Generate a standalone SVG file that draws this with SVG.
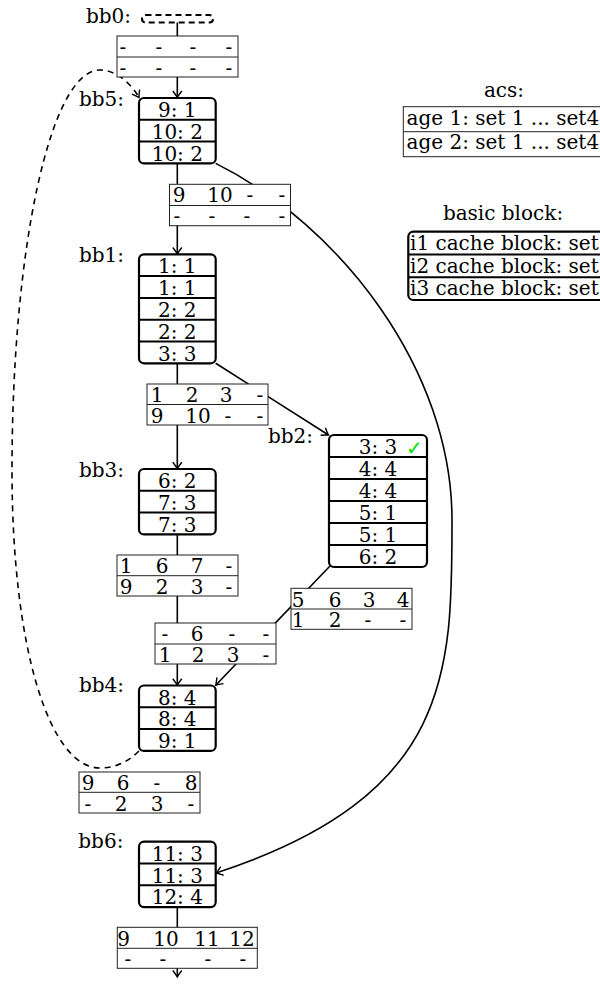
<svg xmlns="http://www.w3.org/2000/svg" width="600" height="985" viewBox="0 0 600 985">
<defs>
<style>
text{font-family:"DejaVu Serif","Liberation Serif",serif;font-size:20px;fill:#000}
.c{text-anchor:middle}
.frame{fill:#fff;stroke:#000;stroke-width:2.2}
.dv{stroke:#000;stroke-width:2}
.acs rect{fill:#fff;stroke:#222;stroke-width:1}
.acs line{stroke:#222;stroke-width:1}
.edge{fill:none;stroke:#000;stroke-width:1.6}
.dash{stroke-dasharray:6 5}
.chk{font-family:"DejaVu Sans",sans-serif;fill:#00e000}
</style>
<marker id="arr" markerUnits="userSpaceOnUse" markerWidth="14" markerHeight="14" viewBox="-8 -7 10 14" refX="0" refY="0" orient="auto">
<path d="M-6.5,-4.5 Q-2,-1 0,0 Q-2,1 -6.5,4.5" fill="none" stroke="#000" stroke-width="1.4"/>
</marker>
</defs>
<rect width="600" height="985" fill="#fff"/>

<g id="connectors">
<line class="edge" x1="177.3" y1="22" x2="177.3" y2="97.5" marker-end="url(#arr)"/>
<line class="edge" x1="177.3" y1="163.4" x2="177.3" y2="254" marker-end="url(#arr)"/>
<path class="edge" d="M215.7,163.4 C341,226 452,370 452,520 C452,670 453.5,795.5 216,873" marker-end="url(#arr)"/>
<line class="edge" x1="177.3" y1="363.3" x2="177.3" y2="468.7" marker-end="url(#arr)"/>
<line class="edge" x1="215.7" y1="363.3" x2="328.5" y2="435" marker-end="url(#arr)"/>
<line class="edge" x1="177.3" y1="534.4" x2="177.3" y2="685.2" marker-end="url(#arr)"/>
<line class="edge" x1="330" y1="566" x2="215.7" y2="685.2" marker-end="url(#arr)"/>
<path class="edge dash" d="M139,751 C128,762 115,768 100,768 C50,768 12,650 12,470 C12,250 50,70 100,70 C115,70 130,82 139,97.5" marker-end="url(#arr)"/>
<line class="edge" x1="177.3" y1="907" x2="177.3" y2="977" marker-end="url(#arr)"/>
</g>

<g id="bb0">
<text x="86" y="22.5">bb0:</text>
<rect x="142" y="15" width="71" height="7.5" rx="3.5" fill="#fff" stroke="#000" stroke-width="2" stroke-dasharray="6 4"/>
</g>
<g id="acs0" class="acs">
<rect x="117" y="36" width="121" height="41"/><line x1="117" y1="57" x2="238" y2="57"/>
<text class="c" x="123" y="54">-</text><text class="c" x="159" y="54">-</text><text class="c" x="193" y="54">-</text><text class="c" x="229" y="54">-</text>
<text class="c" x="123" y="75">-</text><text class="c" x="159" y="75">-</text><text class="c" x="193" y="75">-</text><text class="c" x="229" y="75">-</text>
</g>

<g id="bb5">
<text x="79" y="105.5">bb5:</text>
<rect class="frame" x="139" y="98" width="76.7" height="65.4" rx="5"/>
<line class="dv" x1="139" y1="119.8" x2="215.7" y2="119.8"/><line class="dv" x1="139" y1="141.6" x2="215.7" y2="141.6"/>
<text class="c" x="177.3" y="117">9: 1</text><text class="c" x="177.3" y="138.8">10: 2</text><text class="c" x="177.3" y="160.6">10: 2</text>
</g>
<g id="acs5" class="acs">
<rect x="169.5" y="184.3" width="121" height="41.4"/><line x1="169.5" y1="205.5" x2="290.5" y2="205.5"/>
<text class="c" x="179" y="202">9</text><text class="c" x="220" y="202">10</text><text class="c" x="250" y="202">-</text><text class="c" x="282" y="202">-</text>
<text class="c" x="177" y="223">-</text><text class="c" x="212" y="223">-</text><text class="c" x="247" y="223">-</text><text class="c" x="282" y="223">-</text>
</g>

<g id="bb1">
<text x="79" y="261.7">bb1:</text>
<rect class="frame" x="139" y="254.3" width="76.7" height="109" rx="5"/>
<line class="dv" x1="139" y1="276.1" x2="215.7" y2="276.1"/><line class="dv" x1="139" y1="297.9" x2="215.7" y2="297.9"/>
<line class="dv" x1="139" y1="319.7" x2="215.7" y2="319.7"/><line class="dv" x1="139" y1="341.5" x2="215.7" y2="341.5"/>
<text class="c" x="177.3" y="273.3">1: 1</text><text class="c" x="177.3" y="295.1">1: 1</text><text class="c" x="177.3" y="316.9">2: 2</text>
<text class="c" x="177.3" y="338.7">2: 2</text><text class="c" x="177.3" y="360.5">3: 3</text>
</g>
<g id="acs1" class="acs">
<rect x="147" y="384" width="121" height="41"/><line x1="147" y1="404.5" x2="268" y2="404.5"/>
<text class="c" x="157" y="402">1</text><text class="c" x="192" y="402">2</text><text class="c" x="226" y="402">3</text><text class="c" x="260" y="402">-</text>
<text class="c" x="157" y="422.5">9</text><text class="c" x="198" y="422.5">10</text><text class="c" x="228" y="422.5">-</text><text class="c" x="260" y="422.5">-</text>
</g>

<g id="bb2">
<text x="268" y="443.3">bb2:</text>
<rect class="frame" x="329" y="435" width="98" height="132" rx="5"/>
<line class="dv" x1="329" y1="457" x2="427" y2="457"/><line class="dv" x1="329" y1="479" x2="427" y2="479"/>
<line class="dv" x1="329" y1="501" x2="427" y2="501"/><line class="dv" x1="329" y1="523" x2="427" y2="523"/>
<line class="dv" x1="329" y1="545" x2="427" y2="545"/>
<text class="c" x="378" y="454">3: 3</text><text class="chk" x="406" y="455">✓</text>
<text class="c" x="378" y="476">4: 4</text><text class="c" x="378" y="498">4: 4</text>
<text class="c" x="378" y="520">5: 1</text><text class="c" x="378" y="542">5: 1</text><text class="c" x="378" y="564">6: 2</text>
</g>
<g id="acs2" class="acs">
<rect x="291" y="588.3" width="121" height="41"/><line x1="291" y1="609" x2="412" y2="609"/>
<text class="c" x="298" y="606.5">5</text><text class="c" x="335" y="606.5">6</text><text class="c" x="369" y="606.5">3</text><text class="c" x="403" y="606.5">4</text>
<text class="c" x="298" y="627">1</text><text class="c" x="335" y="627">2</text><text class="c" x="368" y="627">-</text><text class="c" x="403" y="627">-</text>
</g>

<g id="bb3">
<text x="79" y="476.7">bb3:</text>
<rect class="frame" x="139" y="469" width="76.7" height="65.4" rx="5"/>
<line class="dv" x1="139" y1="490.8" x2="215.7" y2="490.8"/><line class="dv" x1="139" y1="512.6" x2="215.7" y2="512.6"/>
<text class="c" x="177.3" y="488">6: 2</text><text class="c" x="177.3" y="509.8">7: 3</text><text class="c" x="177.3" y="531.6">7: 3</text>
</g>
<g id="acs3" class="acs">
<rect x="117" y="555" width="121" height="41"/><line x1="117" y1="575.7" x2="238" y2="575.7"/>
<text class="c" x="126" y="573">1</text><text class="c" x="162" y="573">6</text><text class="c" x="197" y="573">7</text><text class="c" x="229" y="573">-</text>
<text class="c" x="126" y="593.5">9</text><text class="c" x="162" y="593.5">2</text><text class="c" x="197" y="593.5">3</text><text class="c" x="229" y="593.5">-</text>
</g>

<g id="acsMerge" class="acs">
<rect x="155" y="623" width="121" height="41"/><line x1="155" y1="644" x2="276" y2="644"/>
<text class="c" x="165" y="641">-</text><text class="c" x="197" y="641">6</text><text class="c" x="232" y="641">-</text><text class="c" x="266" y="641">-</text>
<text class="c" x="165" y="661.5">1</text><text class="c" x="198" y="661.5">2</text><text class="c" x="233" y="661.5">3</text><text class="c" x="266" y="661.5">-</text>
</g>

<g id="bb4">
<text x="79" y="691.7">bb4:</text>
<rect class="frame" x="139" y="685.5" width="76.7" height="65.4" rx="5"/>
<line class="dv" x1="139" y1="707.3" x2="215.7" y2="707.3"/><line class="dv" x1="139" y1="729.1" x2="215.7" y2="729.1"/>
<text class="c" x="177.3" y="704.5">8: 4</text><text class="c" x="177.3" y="726.3">8: 4</text><text class="c" x="177.3" y="748.1">9: 1</text>
</g>
<g id="acs4" class="acs">
<rect x="79" y="772" width="121" height="41"/><line x1="79" y1="792.3" x2="200" y2="792.3"/>
<text class="c" x="88" y="790">9</text><text class="c" x="123" y="790">6</text><text class="c" x="157" y="790">-</text><text class="c" x="191" y="790">8</text>
<text class="c" x="88" y="810.5">-</text><text class="c" x="121" y="810.5">2</text><text class="c" x="157" y="810.5">3</text><text class="c" x="191" y="810.5">-</text>
</g>

<g id="bb6">
<text x="78.3" y="848.3">bb6:</text>
<rect class="frame" x="139" y="841.7" width="76.7" height="65.4" rx="5"/>
<line class="dv" x1="139" y1="863.5" x2="215.7" y2="863.5"/><line class="dv" x1="139" y1="885.3" x2="215.7" y2="885.3"/>
<text class="c" x="177.3" y="860.7">11: 3</text><text class="c" x="177.3" y="882.5">11: 3</text><text class="c" x="177.3" y="904.3">12: 4</text>
</g>
<g id="acs6" class="acs">
<rect x="117.3" y="927.3" width="140" height="41"/><line x1="117.3" y1="948.3" x2="257.3" y2="948.3"/>
<text class="c" x="123.5" y="945.5">9</text><text class="c" x="166" y="945.5">10</text><text class="c" x="207" y="945.5">11</text><text class="c" x="242" y="945.5">12</text>
<text class="c" x="128" y="966">-</text><text class="c" x="163" y="966">-</text><text class="c" x="208" y="966">-</text><text class="c" x="243" y="966">-</text>
</g>

<g id="legend-acs" class="acs">
<text class="c" x="504" y="97">acs:</text>
<rect x="403.3" y="106.7" width="220" height="50"/><line x1="403.3" y1="131.7" x2="623" y2="131.7"/>
<text x="406.5" y="125">age 1: set 1 ... set4</text>
<text x="406.5" y="148.5">age 2: set 1 ... set4</text>
</g>

<g id="legend-bb">
<text class="c" x="503" y="220">basic block:</text>
<rect class="frame" x="408.3" y="231.7" width="220" height="68.3" rx="5"/>
<line class="dv" x1="408.3" y1="254.5" x2="628" y2="254.5"/><line class="dv" x1="408.3" y1="277.3" x2="628" y2="277.3"/>
<text x="410" y="249.5">i1 cache block: set</text>
<text x="410" y="272.5">i2 cache block: set</text>
<text x="410" y="295">i3 cache block: set</text>
</g>
</svg>
